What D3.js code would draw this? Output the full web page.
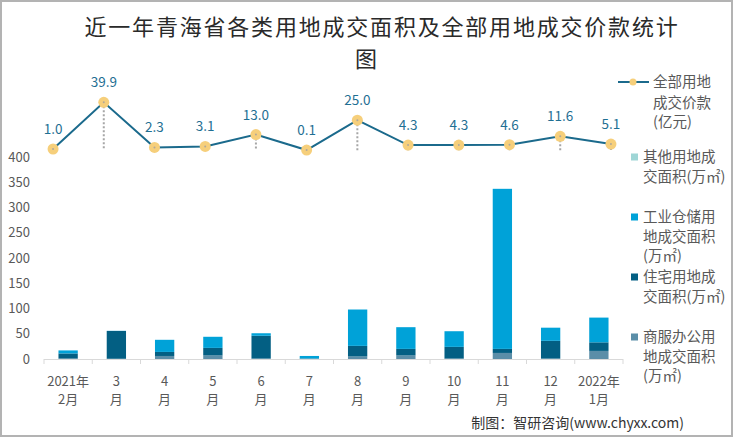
<!DOCTYPE html>
<html><head><meta charset="utf-8">
<script src="https://cdn.jsdelivr.net/npm/d3@7"></script>
<style>body{margin:0;background:#fff}svg{display:block}</style>
</head><body><div id="chart"></div>
<script>
const months = ["2021年\n2月","3\n月","4\n月","5\n月","6\n月","7\n月","8\n月","9\n月","10\n月","11\n月","12\n月","2022年\n1月"];
const commercial  = [1, 0.5, 6, 7, 1, 0.3, 5, 7, 1, 12, 1, 16];
const residential = [10, 55, 8, 15, 45, 0.7, 21, 13, 23, 8, 35, 17];
const industrial  = [6, 0.3, 24, 22, 5, 5, 72, 43, 31, 317, 26, 49];
const other       = [0, 0, 0, 0, 0, 0, 0, 0, 0, 0, 0, 0];
const price       = [1.0, 39.9, 2.3, 3.1, 13.0, 0.1, 25.0, 4.3, 4.3, 4.6, 11.6, 5.1];
const yTicks = [0, 50, 100, 150, 200, 250, 300, 350, 400];

const W = 750, H = 440;
const svg = d3.select("#chart").append("svg").attr("width", W).attr("height", H);
const font = "'Noto Sans CJK SC','Noto Sans',sans-serif";

svg.append("rect").attr("x",1).attr("y",1).attr("width",731).attr("height",435)
  .attr("fill","#fff").attr("stroke","#b3b3b3").attr("stroke-width",2);

// Title
const title = svg.append("text").attr("text-anchor","middle")
  .attr("font-family",font).attr("font-size",22).attr("fill","#2a2a2a");
title.append("tspan").attr("x",382).attr("y",35).attr("letter-spacing",1.8).text("近一年青海省各类用地成交面积及全部用地成交价款统计");
title.append("tspan").attr("x",366).attr("y",67).text("图");

const x = d3.scaleBand().domain(d3.range(months.length)).range([44, 623]).paddingInner(0.6).paddingOuter(0.3);
const xOuter = d3.scaleBand().domain(d3.range(months.length)).range([44, 623]);
const xLine = d3.scaleBand().domain(d3.range(months.length)).range([27.7, 636.3]);
const y = d3.scaleLinear().domain([0, 400]).range([359, 157]);
const yLine = d3.scaleLinear().domain([0, 40]).range([150.2, 102.2]);

// y tick labels
svg.append("g").selectAll("text").data(yTicks).join("text")
  .attr("x", 30).attr("y", d => y(d)).attr("dy","0.35em").attr("text-anchor","end")
  .attr("font-family",font).attr("font-size",13).attr("fill","#595959").text(d => d);

// x axis
const xa = svg.append("g");
xa.append("line").attr("x1",44).attr("x2",623).attr("y1",359.5).attr("y2",359.5).attr("stroke","#d9d9d9").attr("stroke-width",1);
xa.selectAll("line.t").data(d3.range(months.length+1)).join("line").attr("class","t")
  .attr("x1", i => 44 + i*xOuter.step()).attr("x2", i => 44 + i*xOuter.step())
  .attr("y1",359).attr("y2",364).attr("stroke","#d9d9d9");
months.forEach((m,i) => {
  const parts = m.split("\n");
  const t = xa.append("text").attr("text-anchor","middle").attr("font-family",font)
    .attr("font-size",13).attr("fill","#595959");
  parts.forEach((p,j) => t.append("tspan").attr("x", xOuter(i)+xOuter.bandwidth()/2).attr("y", 386 + j*18).text(p));
});

// stacked bars
const seriesDefs = [
  {key:"commercial", vals:commercial, color:"#5b8ea8"},
  {key:"residential", vals:residential, color:"#035f83"},
  {key:"industrial", vals:industrial, color:"#00a2d8"},
  {key:"other", vals:other, color:"#9fd6d6"}
];
const table = months.map((m,i) => {
  const o = {i};
  seriesDefs.forEach(s => o[s.key] = s.vals[i]);
  return o;
});
const stack = d3.stack().keys(seriesDefs.map(s=>s.key))(table);
svg.append("g").selectAll("g").data(stack).join("g")
  .attr("fill", (d,k) => seriesDefs[k].color)
  .selectAll("rect").data(d => d).join("rect")
  .attr("x", d => x(d.data.i)).attr("width", x.bandwidth())
  .attr("y", d => y(d[1])).attr("height", d => Math.max(0, y(d[0]) - y(d[1])));

// drop lines
const cx = i => xLine(i) + xLine.bandwidth()/2;
svg.append("g").selectAll("line").data(price).join("line")
  .attr("x1",(d,i)=>cx(i)).attr("x2",(d,i)=>cx(i))
  .attr("y1", d => yLine(d)).attr("y2", yLine(0))
  .attr("stroke","#a6a6a6").attr("stroke-width",2).attr("stroke-dasharray","2,2");

// line
svg.append("path").datum(price)
  .attr("d", d3.line().x((d,i)=>cx(i)).y(d=>yLine(d)))
  .attr("fill","none").attr("stroke","#1b6a8c").attr("stroke-width",2);
const mk = svg.append("g").selectAll("g").data(price).join("g");
mk.append("circle").attr("cx",(d,i)=>cx(i)).attr("cy",d=>yLine(d)).attr("r",5.5).attr("fill","#f6cf7b");
mk.append("circle").attr("cx",(d,i)=>cx(i)).attr("cy",d=>yLine(d)).attr("r",1).attr("fill","#b0a89a");
svg.append("g").selectAll("text").data(price).join("text")
  .attr("x",(d,i)=>cx(i)).attr("y",d=>yLine(d)-15).attr("text-anchor","middle")
  .attr("font-family",font).attr("font-size",13.5).attr("fill","#1f6f93")
  .text(d => d.toFixed(1));

// legend
const lg = svg.append("g").attr("font-family",font).attr("font-size",14.5).attr("fill","#595959");
lg.append("line").attr("x1",618).attr("x2",649).attr("y1",82).attr("y2",82).attr("stroke","#1b6a8c").attr("stroke-width",2);
lg.append("circle").attr("cx",633).attr("cy",82).attr("r",3.5).attr("fill","#f6cf7b");
[["全部用地",82],["成交价款",103],["(亿元)",122]].forEach(([t,yy]) =>
  lg.append("text").attr("x",653).attr("y",yy).attr("dy","0.35em").text(t));
const legendItems = [
  {color:"#9fd6d6", lines:["其他用地成","交面积(万㎡)"], y:157},
  {color:"#00a2d8", lines:["工业仓储用","地成交面积","(万㎡)"], y:217},
  {color:"#035f83", lines:["住宅用地成","交面积(万㎡)"], y:277},
  {color:"#5b8ea8", lines:["商服办公用","地成交面积","(万㎡)"], y:337}
];
legendItems.forEach(it => {
  lg.append("rect").attr("x",631).attr("y",it.y-3.5).attr("width",7).attr("height",7).attr("fill",it.color);
  it.lines.forEach((t,j) => lg.append("text").attr("x",643).attr("y",it.y + j*19.5).attr("dy","0.35em").text(t));
});

// source
svg.append("text").attr("x",684).attr("y",423).attr("dy","0.35em").attr("text-anchor","end")
  .attr("font-family",font).attr("font-size",14).attr("fill","#333").text("制图：智研咨询(www.chyxx.com)");
</script></body></html>
